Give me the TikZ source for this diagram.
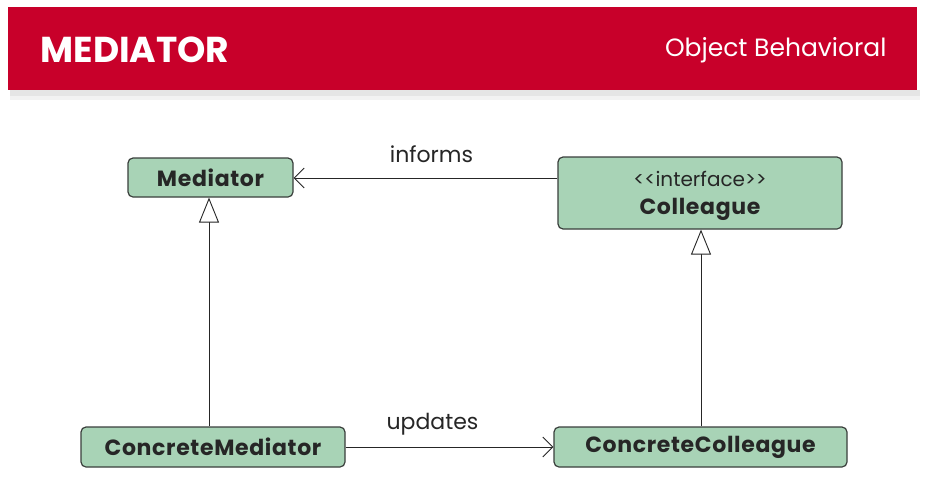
\documentclass[tikz,border=0pt]{standalone}
\usepackage{fontspec}
\setmainfont{Poppins}[Ligatures=NoCommon]
\newfontfamily\spaced{Poppins}[LetterSpace=3]
\usetikzlibrary{arrows.meta}
\definecolor{banner}{HTML}{C8002A}
\definecolor{boxfill}{HTML}{A8D3B6}
\definecolor{boxline}{HTML}{3A3F3C}
\tikzset{
  cls/.style={draw=boxline, line width=1.2pt, fill=boxfill, rounded corners=5pt, inner sep=0pt},
  clsfont/.style={font=\spaced\fontsize{22}{24}\selectfont\bfseries, text=black!85},
  conn/.style={line width=0.9pt, draw=black!85},
  inherit/.style={conn, -{Triangle[open, length=25pt, width=20pt, fill=white]}},
  assoc/.style={conn, -{Straight Barb[length=10pt, width=20pt]}},
  lbl/.style={font=\fontsize{22}{24}\selectfont, text=black!85}
}
\begin{document}
\begin{tikzpicture}[x=1pt, y=-1pt]
\useasboundingbox (0,0) rectangle (931,477);
\fill[white] (0,0) rectangle (931,477);
% banner shadow
\fill[black!10] (10,90) rectangle (920,96);
\fill[black!5] (10,96) rectangle (920,100);
\fill[banner] (8,7) rectangle (917,90);
\node[anchor=west, text=white, font=\fontsize{36}{38}\selectfont\bfseries] (title) at (37,50) {MEDIATOR};
\node[anchor=east, text=white, font=\fontsize{25}{28}\selectfont] (kind) at (890,50) {Object Behavioral};

% class boxes
\node[cls, clsfont, minimum width=165pt, minimum height=39pt] (med) at (210.5,177.5) {Mediator};
\node[cls, minimum width=284pt, minimum height=72pt, align=center, text=black!85,
      font=\fontsize{20}{28}\selectfont, text depth=0pt] (col) at (700,193)
  {<{}<interface>{}>\\{\spaced\bfseries\fontsize{22}{28}\selectfont Colleague}};
\node[cls, clsfont, minimum width=264pt, minimum height=40pt] (cmed) at (213,447) {ConcreteMediator};
\node[cls, clsfont, minimum width=293pt, minimum height=40pt] (ccol) at (700.5,447) {ConcreteColleague};

% connectors
\draw[inherit] (cmed.north -| 209,0) -- (med.south -| 209,0);
\draw[inherit] (ccol.north -| 701,0) -- (col.south -| 701,0);
\draw[assoc] (col.west |- 0,178) -- (med.east |- 0,178) node[lbl, midway, above=12pt, xshift=6pt] (inf) {informs};
\draw[assoc] (cmed.east) -- (ccol.west) node[lbl, midway, above=8pt, xshift=-17pt] (upd) {updates};
\end{tikzpicture}
\end{document}
